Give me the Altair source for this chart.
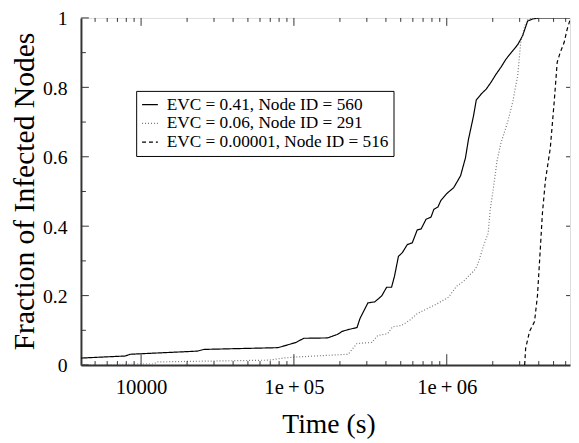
import altair as alt
import pandas as pd

FONT = "Liberation Serif"

series_names = [
    "EVC = 0.41, Node ID = 560",
    "EVC = 0.06, Node ID = 291",
    "EVC = 0.00001, Node ID = 516",
]

solid_t = [4042, 7885, 8493, 23320, 25880, 78840, 103000, 116000, 165800, 192200,
           207100, 226300, 258800, 270600, 304800, 338100, 375200, 404200, 435300,
           455100, 483000, 512500, 552000, 594700, 640600, 679800, 732000, 788400,
           824500, 875000, 915000, 1000000, 1110000, 1231000, 1326000, 1387000,
           1494000, 1561000, 1682000, 1812000, 1951000, 2102000, 2263000, 2439000,
           2706000, 2914000, 3139000, 3234000, 3381000, 3642000, 4042000, 6405000]
solid_y = [0.020, 0.026, 0.031, 0.040, 0.045, 0.050, 0.065, 0.077, 0.078, 0.088,
           0.097, 0.102, 0.108, 0.134, 0.179, 0.182, 0.199, 0.224, 0.224,
           0.256, 0.313, 0.324, 0.347, 0.352, 0.389, 0.392, 0.420, 0.426,
           0.449, 0.455, 0.474, 0.494, 0.511, 0.545, 0.597, 0.650,
           0.716, 0.764, 0.781, 0.795, 0.815, 0.838, 0.858, 0.881,
           0.906, 0.923, 0.949, 0.966, 0.991, 0.997, 1.0, 1.0]

dotted_t = [4042, 12000, 12873, 68990, 84920, 103000, 168200, 226300, 258800, 323400,
            353500, 410200, 441800, 505000, 568700, 640600, 743000, 862000, 1030000,
            1160000, 1287000, 1539000, 1609000, 1733000, 1866000, 1923000, 2010000,
            2133000, 2263000, 2512000, 2706000, 2914000, 3047000, 3234000, 3381000,
            3642000, 6405000]
dotted_y = [0.0, 0.003, 0.009, 0.014, 0.020, 0.023, 0.028, 0.031, 0.062, 0.065,
            0.085, 0.090, 0.110, 0.114, 0.128, 0.148, 0.162, 0.176, 0.196,
            0.227, 0.241, 0.276, 0.295, 0.341, 0.380, 0.446, 0.503,
            0.588, 0.640, 0.702, 0.759, 0.835, 0.929, 0.977, 0.994,
            1.0, 1.0]

dashed_t = [3234000, 3282000, 3483000, 3752000, 3923000, 4102000, 4226000, 4419000,
            4758000, 5049000, 5280000, 5520000, 5858000, 6125000, 6405000, 6700000]
dashed_y = [0.0, 0.048, 0.097, 0.125, 0.200, 0.341, 0.437, 0.531,
            0.625, 0.759, 0.872, 0.900, 0.929, 0.966, 0.994, 1.0]

x_major = [1e4, 1e5, 1e6]
x_tick_labels = ["10000", "1e\u2009+\u200905", "1e\u2009+\u200906"]
x_minor = [5000, 6000, 7000, 8000, 9000,
           20000, 30000, 40000, 50000, 60000, 70000, 80000, 90000,
           200000, 300000, 400000, 500000, 600000, 700000, 800000, 900000,
           2000000, 3000000, 4000000, 5000000, 6000000]
y_major = [0, 0.2, 0.4, 0.6, 0.8, 1.0]
y_minor = [0.1, 0.3, 0.5, 0.7, 0.9]
y_right = [0.2, 0.4, 0.6, 0.8]

rows = []
for name, ts, ys in zip(series_names, [solid_t, dotted_t, dashed_t],
                        [solid_y, dotted_y, dashed_y]):
    for i, (t, y) in enumerate(zip(ts, ys, strict=True)):
        rows.append({"series": name, "t": t, "y": y, "order": i})
df = pd.DataFrame(rows)

W, H = 496, 352
xscale = alt.Scale(type="log", domain=[4042, 6405000], nice=False)
yscale = alt.Scale(domain=[0, 1], nice=False)

label_expr = " : ".join(
    [f"datum.value == {v} ? '{lab}'" for v, lab in zip(x_major, x_tick_labels)]
) + " : ''"

legend = alt.Legend(
    title=None, orient="none", legendX=56, legendY=74,
    strokeColor="black", fillColor="white", padding=5,
    symbolType="stroke", symbolSize=256, symbolStrokeWidth=1.2,
    labelFont=FONT, labelFontSize=17.5, labelColor="black", labelLimit=500,
    rowPadding=1, labelOffset=8,
)

xaxis = alt.Axis(
    values=x_major, labelExpr=label_expr, title="Time (s)",
    ticks=False, tickSize=0, grid=False, labelPadding=29,
    labelBaseline="alphabetic", labelFontSize=21, labelColor="black",
    labelFont=FONT, titleFont=FONT, titleFontSize=28, titleFontWeight="normal",
    titleColor="black", titleX=251, titleY=68, titleBaseline="alphabetic",
    titleAlign="center", domainColor="#333", domainWidth=2, labelOverlap=False,
    labelFlush=False)
yaxis = alt.Axis(
    values=y_major, format=".1~f", title="Fraction of Infected Nodes",
    ticks=False, tickSize=0, grid=False, labelPadding=14, labelOffset=1,
    labelBaseline="middle", labelFontSize=20, labelColor="black",
    labelFont=FONT, titleFont=FONT, titleFontSize=30, titleFontWeight="normal",
    titleColor="black", titleAngle=270, titleX=-48, titleY=175.5,
    titleBaseline="alphabetic", titleAlign="center",
    domainColor="#333", domainWidth=2, labelOverlap=False, labelFlush=False)

lines = alt.Chart(df).mark_line(clip=True, strokeWidth=1.2).encode(
    x=alt.X("t:Q", scale=xscale, axis=xaxis),
    y=alt.Y("y:Q", scale=yscale, axis=yaxis),
    color=alt.Color("series:N", scale=alt.Scale(domain=series_names,
                    range=["black", "#777777", "black"]), legend=legend),
    strokeDash=alt.StrokeDash("series:N", scale=alt.Scale(domain=series_names,
                    range=[[1, 0], [1, 2], [4, 3]]), legend=legend),
    order="order:Q",
)

TC = "#333333"

def xticks(vals, y1, y2):
    return alt.Chart(pd.DataFrame({"t": vals})).mark_rule(color=TC, strokeWidth=1).encode(
        x=alt.X("t:Q", scale=xscale, axis=xaxis), y=alt.value(y1), y2=alt.value(y2))

def yticks(vals, x1, x2):
    return alt.Chart(pd.DataFrame({"y": vals})).mark_rule(color=TC, strokeWidth=1).encode(
        y=alt.Y("y:Q", scale=yscale, axis=yaxis), x=alt.value(x1), x2=alt.value(x2))

layers = [
    lines,
    xticks(x_major, H, H - 11),
    xticks(x_minor, H, H - 4),
    xticks(x_major, 0, 8),
    xticks(x_minor, 0, 4),
    yticks(y_major, 0, 8),
    yticks(y_minor, 0, 5),
    yticks(y_right, W, W - 4),
]

chart = alt.layer(*layers).properties(
    width=W, height=H,
    padding={"left": 74, "top": 7, "right": 1, "bottom": 75},
    autosize=alt.AutoSizeParams(type="none"),
).configure_view(stroke="#333333", strokeWidth=1.5).configure(font=FONT, background="white")

chart.save("out.html", embed_options={"renderer": "svg", "actions": False})
